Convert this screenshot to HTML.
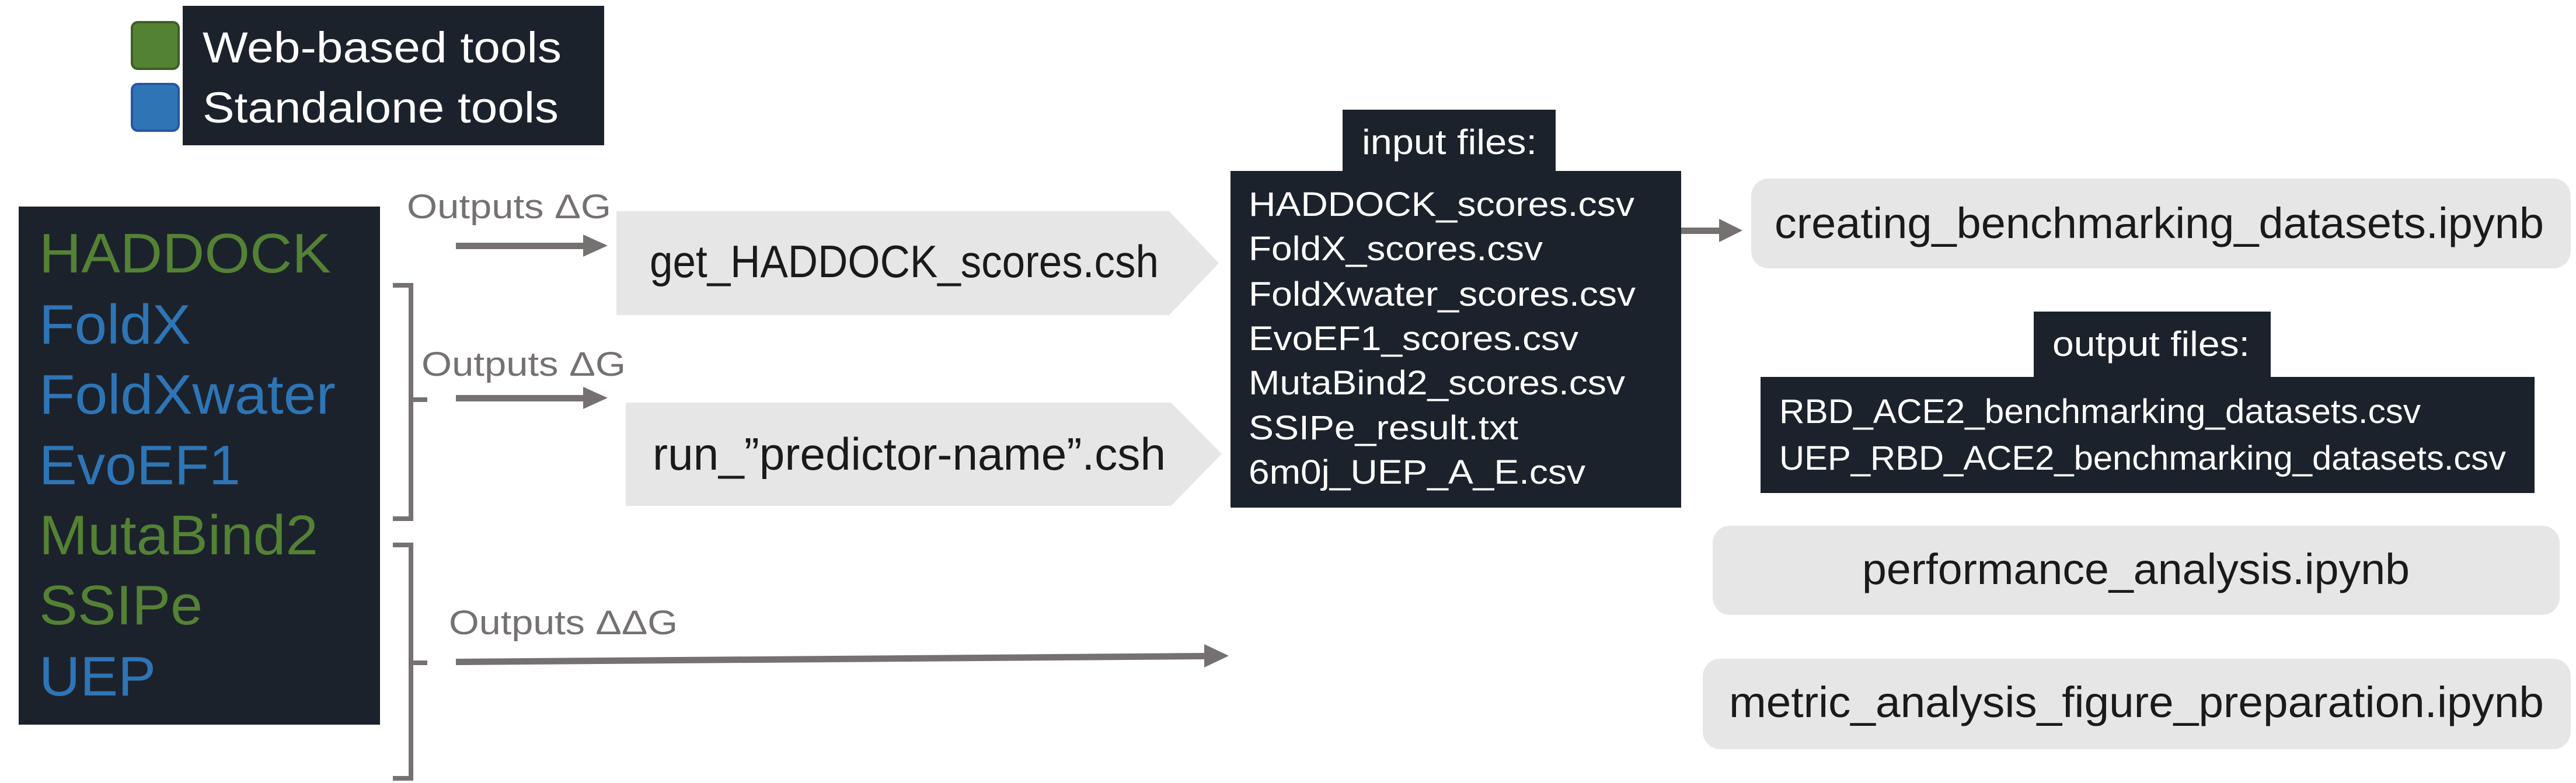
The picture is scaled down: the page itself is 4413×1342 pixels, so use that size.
<!DOCTYPE html>
<html><head><meta charset="utf-8"><style>html,body{margin:0;padding:0;background:#fff;}svg{display:block;}</style></head>
<body>
<svg width="4413" height="1342" viewBox="0 0 4413 1342" xmlns="http://www.w3.org/2000/svg" font-family="Liberation Sans, sans-serif">
<!-- legend -->
<rect x="313" y="10" width="722" height="239" fill="#1c222c"/>
<rect x="226" y="38" width="80" height="80" rx="10" fill="#548235" stroke="#3d5f26" stroke-width="4"/>
<rect x="226" y="144" width="80" height="80" rx="10" fill="#2e75b6" stroke="#2a55a0" stroke-width="4"/>
<text x="347" y="107" font-size="74" fill="#fff" textLength="615" lengthAdjust="spacingAndGlyphs">Web-based tools</text>
<text x="347" y="210" font-size="74" fill="#fff" textLength="610" lengthAdjust="spacingAndGlyphs">Standalone tools</text>
<!-- tools box -->
<rect x="32" y="354" width="619" height="888" fill="#1c222c"/>
<g font-size="96">
<text x="67" y="467" fill="#548235" textLength="500" lengthAdjust="spacingAndGlyphs">HADDOCK</text>
<text x="67" y="589" fill="#2e75b6" textLength="260" lengthAdjust="spacingAndGlyphs">FoldX</text>
<text x="67" y="709" fill="#2e75b6" textLength="508" lengthAdjust="spacingAndGlyphs">FoldXwater</text>
<text x="67" y="830" fill="#2e75b6" textLength="345" lengthAdjust="spacingAndGlyphs">EvoEF1</text>
<text x="67" y="950" fill="#548235" textLength="478" lengthAdjust="spacingAndGlyphs">MutaBind2</text>
<text x="67" y="1070" fill="#548235" textLength="280" lengthAdjust="spacingAndGlyphs">SSIPe</text>
<text x="67" y="1192" fill="#2e75b6" textLength="200" lengthAdjust="spacingAndGlyphs">UEP</text>
</g>
<!-- brackets -->
<g fill="none" stroke="#767171" stroke-width="8">
<path d="M673 489 H704 V889 H673 M704 685 H732"/>
<path d="M673 934 H704 V1334 H673 M704 1136 H732"/>
</g>
<!-- arrows -->
<g fill="#767171">
<rect x="781" y="416" width="222" height="11"/><polygon points="999,402 1041,421 999,440"/>
<rect x="781" y="677" width="222" height="11"/><polygon points="999,663 1041,682 999,701"/>
<polygon points="781,1129 2065,1119 2065,1130 781,1140"/><polygon points="2063,1104 2105,1124 2063,1144"/>
<rect x="2880" y="390" width="70" height="11"/><polygon points="2945,375 2985,395 2945,415"/>
</g>
<g font-size="58" fill="#767171">
<text x="697" y="374" textLength="350" lengthAdjust="spacingAndGlyphs">Outputs ΔG</text>
<text x="722" y="644" textLength="350" lengthAdjust="spacingAndGlyphs">Outputs ΔG</text>
<text x="769" y="1087" textLength="392" lengthAdjust="spacingAndGlyphs">Outputs ΔΔG</text>
</g>
<!-- chevrons -->
<polygon points="1056,362 2003,362 2088,451 2003,540 1056,540" fill="#e6e6e6"/>
<polygon points="1072,690 2006,690 2093,778 2006,867 1072,867" fill="#e6e6e6"/>
<text x="1113" y="475" font-size="78" fill="#1a1a1a" textLength="872" lengthAdjust="spacingAndGlyphs">get_HADDOCK_scores.csh</text>
<text x="1118" y="805" font-size="78" fill="#1a1a1a" textLength="879" lengthAdjust="spacingAndGlyphs">run_”predictor-name”.csh</text>
<!-- input files -->
<rect x="2300" y="188" width="365" height="110" fill="#1c222c"/>
<rect x="2108" y="293" width="772" height="577" fill="#1c222c"/>
<text x="2333" y="264" font-size="60" fill="#fff" textLength="300" lengthAdjust="spacingAndGlyphs">input files:</text>
<g font-size="58" fill="#fff">
<text x="2139" y="370" textLength="661" lengthAdjust="spacingAndGlyphs">HADDOCK_scores.csv</text>
<text x="2139" y="446" textLength="504" lengthAdjust="spacingAndGlyphs">FoldX_scores.csv</text>
<text x="2139" y="524" textLength="663" lengthAdjust="spacingAndGlyphs">FoldXwater_scores.csv</text>
<text x="2139" y="600" textLength="565" lengthAdjust="spacingAndGlyphs">EvoEF1_scores.csv</text>
<text x="2139" y="676" textLength="645" lengthAdjust="spacingAndGlyphs">MutaBind2_scores.csv</text>
<text x="2139" y="753" textLength="462" lengthAdjust="spacingAndGlyphs">SSIPe_result.txt</text>
<text x="2139" y="829" textLength="577" lengthAdjust="spacingAndGlyphs">6m0j_UEP_A_E.csv</text>
</g>
<!-- right boxes -->
<rect x="3000" y="306" width="1404" height="154" rx="30" fill="#e6e6e6"/>
<text x="3040" y="408" font-size="74" fill="#1a1a1a" textLength="1318" lengthAdjust="spacingAndGlyphs">creating_benchmarking_datasets.ipynb</text>
<rect x="3484" y="534" width="406" height="117" fill="#1c222c"/>
<rect x="3016" y="646" width="1326" height="199" fill="#1c222c"/>
<text x="3516" y="610" font-size="60" fill="#fff" textLength="338" lengthAdjust="spacingAndGlyphs">output files:</text>
<text x="3048" y="725" font-size="58" fill="#fff" textLength="1099" lengthAdjust="spacingAndGlyphs">RBD_ACE2_benchmarking_datasets.csv</text>
<text x="3048" y="805" font-size="58" fill="#fff" textLength="1245" lengthAdjust="spacingAndGlyphs">UEP_RBD_ACE2_benchmarking_datasets.csv</text>
<rect x="2934" y="901" width="1451" height="153" rx="30" fill="#e6e6e6"/>
<text x="3190" y="1001" font-size="74" fill="#1a1a1a" textLength="938" lengthAdjust="spacingAndGlyphs">performance_analysis.ipynb</text>
<rect x="2917" y="1129" width="1487" height="155" rx="30" fill="#e6e6e6"/>
<text x="2962" y="1229" font-size="74" fill="#1a1a1a" textLength="1396" lengthAdjust="spacingAndGlyphs">metric_analysis_figure_preparation.ipynb</text>
</svg>
</body></html>
